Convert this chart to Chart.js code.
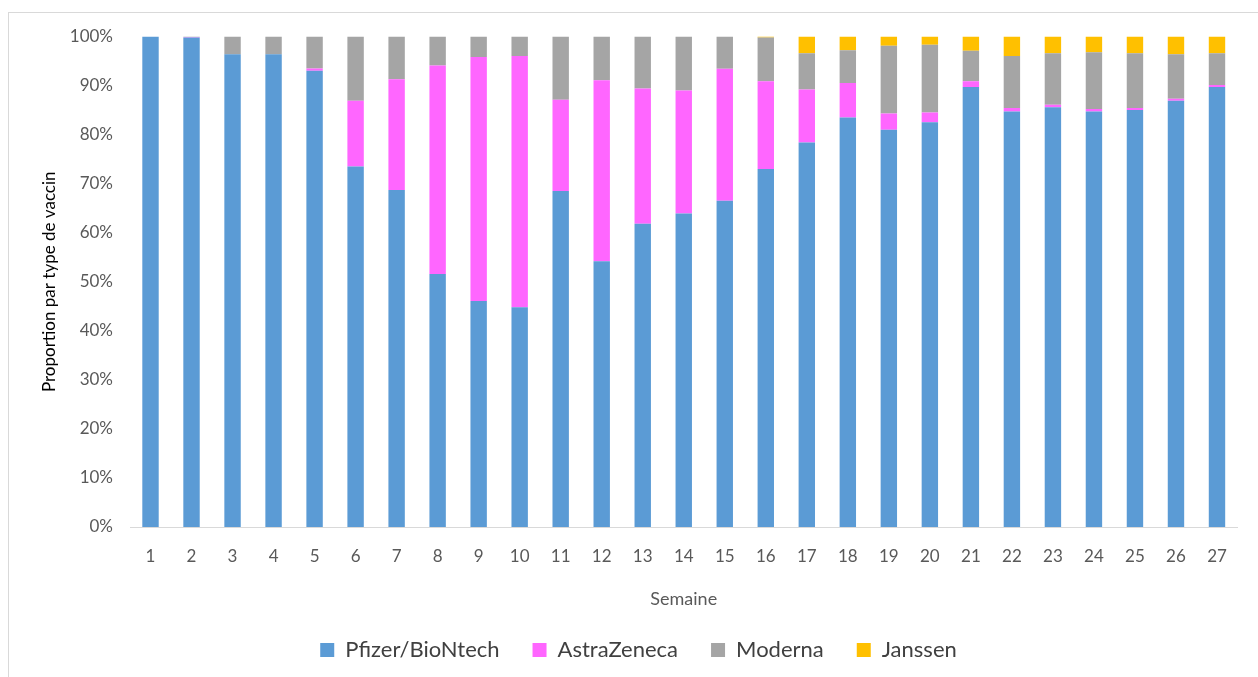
<!DOCTYPE html>
<html>
<head>
<meta charset="utf-8">
<script src="https://cdn.jsdelivr.net/npm/chart.js@4"></script>
<style>
  body { margin: 0; background: #fff; overflow: hidden; }
  #frame { position: absolute; left: 8px; top: 12px; width: 1300px; height: 700px; border: 1px solid #d9d9d9; }
  #wrap { position: absolute; left: 0; top: 0; width: 1258px; height: 677px; }
</style>
</head>
<body>
<div id="frame"></div>
<div id="wrap"><canvas id="chart"></canvas></div>
<script>
const weeks = ["1", "2", "3", "4", "5", "6", "7", "8", "9", "10", "11", "12", "13", "14",
               "15", "16", "17", "18", "19", "20", "21", "22", "23", "24", "25", "26", "27"];

const pfizer = [100, 99.8, 96.4, 96.4, 93.0, 73.5, 68.7, 51.6, 46.1, 44.8, 68.5, 54.2, 61.8, 63.9,
                66.5, 73.0, 78.4, 83.5, 81.0, 82.5, 89.7, 84.7, 85.6, 84.7, 85.0, 86.9, 89.7];
const astra = [0, 0.1, 0, 0, 0.5, 13.4, 22.6, 42.5, 49.7, 51.2, 18.6, 36.9, 27.6, 25.1,
               26.9, 17.9, 10.8, 7.0, 3.3, 2.0, 1.2, 0.7, 0.5, 0.5, 0.4, 0.4, 0.4];
const moderna = [0, 0.1, 3.6, 3.6, 6.5, 13.1, 8.7, 5.9, 4.2, 4.0, 12.9, 8.9, 10.6, 11.0,
                 6.6, 8.9, 7.4, 6.7, 13.8, 13.8, 6.2, 10.6, 10.5, 11.6, 11.2, 9.1, 6.5];
const janssen = [0, 0, 0, 0, 0, 0, 0, 0, 0, 0, 0, 0, 0, 0,
                 0, 0.2, 3.4, 2.8, 1.9, 1.7, 2.9, 4.0, 3.4, 3.2, 3.4, 3.6, 3.4];

const yTicks = [0, 10, 20, 30, 40, 50, 60, 70, 80, 90, 100];

const textColor = "#595959";
const fontFamily = "Lato, 'Open Sans', sans-serif";

const ctx = document.getElementById("chart").getContext("2d");

new Chart(ctx, {
  type: "bar",
  data: {
    labels: weeks,
    datasets: [
      { label: "Pfizer/BioNtech", data: pfizer, backgroundColor: "#5b9bd5" },
      { label: "AstraZeneca", data: astra, backgroundColor: "#ff66ff" },
      { label: "Moderna", data: moderna, backgroundColor: "#a5a5a5" },
      { label: "Janssen", data: janssen, backgroundColor: "#ffc000" }
    ]
  },
  options: {
    responsive: true,
    maintainAspectRatio: false,
    animation: false,
    layout: {
      padding: { left: 39.5, right: 20.5, top: 36.5, bottom: 6 }
    },
    datasets: {
      bar: { categoryPercentage: 1, barPercentage: 0.4 }
    },
    plugins: {
      tooltip: { enabled: false },
      legend: {
        position: "bottom",
        labels: {
          color: "#404040",
          font: { family: fontFamily, size: 22 },
          boxWidth: 14,
          boxHeight: 14,
          padding: 33
        }
      }
    },
    scales: {
      x: {
        stacked: true,
        grid: { display: false, drawTicks: false },
        border: { display: true, color: "#d9d9d9", width: 1 },
        ticks: {
          color: textColor,
          font: { family: fontFamily, size: 17 },
          padding: 19,
          maxRotation: 0
        },
        title: {
          display: true,
          text: "Semaine",
          color: textColor,
          font: { family: fontFamily, size: 18 },
          padding: { top: 16, bottom: -4 }
        },
        afterFit: scale => { scale.height = 79; }
      },
      y: {
        stacked: true,
        min: 0,
        max: 100,
        grid: { display: false, drawTicks: false },
        border: { display: false },
        afterBuildTicks: scale => { scale.ticks = yTicks.map(v => ({ value: v })); },
        ticks: {
          color: textColor,
          font: { family: fontFamily, size: 17 },
          padding: 17,
          callback: v => v + "%"
        },
        title: {
          display: true,
          text: "Proportion par type de vaccin",
          color: "#000",
          font: { family: fontFamily, size: 17 },
          padding: 0
        },
        afterFit: scale => { scale.width = 90.5; }
      }
    }
  }
});
</script>
</body>
</html>
